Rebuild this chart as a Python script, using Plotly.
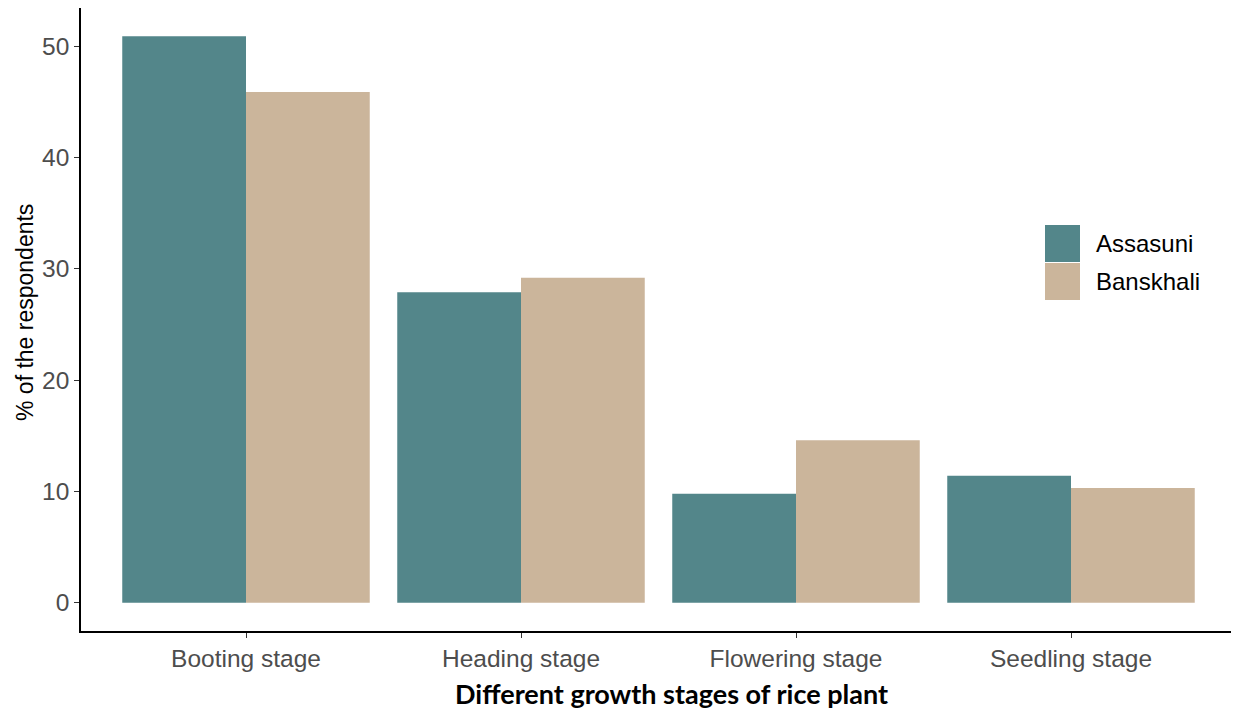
import plotly.graph_objects as go

stages = ["Booting stage", "Heading stage", "Flowering stage", "Seedling stage"]
assasuni = [50.9, 27.9, 9.8, 11.4]
banskhali = [45.9, 29.2, 14.6, 10.3]
series_names = ["Assasuni", "Banskhali"]
colors = ["#53868a", "#cbb59b"]
y_ticks = [0, 10, 20, 30, 40, 50]

# page body has an 8px margin; compensate so positions match the reference
OFF = 8
W, H = 1239 - OFF, 710 - OFF
L, R, T, B = 81 - OFF, 3, 8 - OFF, 79
pw, ph = W - L - R, H - T - B

fig = go.Figure()
for name, vals, col in zip(series_names, [assasuni, banskhali], colors):
    fig.add_trace(go.Bar(x=stages, y=vals, name=name, marker_color=col,
                         marker_line_width=0, showlegend=False))

ymax = max(assasuni + banskhali)
pad = 0.05 * ymax

tickfont = dict(family="Liberation Sans, Arial", size=24.5, color="#4d4d4d")
fig.update_layout(
    width=W, height=H, margin=dict(l=L, r=R, t=T, b=B, autoexpand=False),
    paper_bgcolor="white", plot_bgcolor="white",
    barmode="group", bargap=0.1, bargroupgap=0,
    xaxis=dict(range=[-0.6, len(stages) - 0.4], showgrid=False, zeroline=False,
               showline=True, linecolor="black", linewidth=1.5,
               ticks="outside", ticklen=5, tickcolor="#333333", tickwidth=1.2,
               tickfont=tickfont),
    yaxis=dict(range=[-pad, ymax + pad], showgrid=False, zeroline=False,
               showline=True, linecolor="black", linewidth=1.5,
               ticks="outside", ticklen=5, tickcolor="#333333", tickwidth=1.2,
               tickvals=y_ticks, tickfont=tickfont),
)

def px_x(p):
    return (p - OFF - L) / pw

def px_y(p):
    return (H - B - (p - OFF)) / ph

# axis titles
fig.add_annotation(text="% of the respondents", xref="paper", yref="paper",
                   x=px_x(25), y=px_y(313), textangle=-90, showarrow=False,
                   xanchor="center", yanchor="middle",
                   font=dict(family="Liberation Sans, Arial", size=23, color="black"))
fig.add_annotation(text="<b>Different growth stages of rice plant</b>", xref="paper", yref="paper",
                   x=px_x(672), y=px_y(693), showarrow=False,
                   xanchor="center", yanchor="middle",
                   font=dict(family="Lato", size=27, color="black"))

# legend (manual)
key_tops = [225, 263]
for name, col, top in zip(series_names, colors, key_tops):
    fig.add_shape(type="rect", xref="paper", yref="paper",
                  x0=px_x(1045), x1=px_x(1080), y0=px_y(top), y1=px_y(top + 37),
                  fillcolor=col, line_width=0)
    fig.add_annotation(text=name, xref="paper", yref="paper",
                       x=px_x(1094), y=px_y(top + 18.5), showarrow=False,
                       xanchor="left", yanchor="middle",
                       font=dict(family="Liberation Sans, Arial", size=24, color="black"))

fig.write_html("out.html")
